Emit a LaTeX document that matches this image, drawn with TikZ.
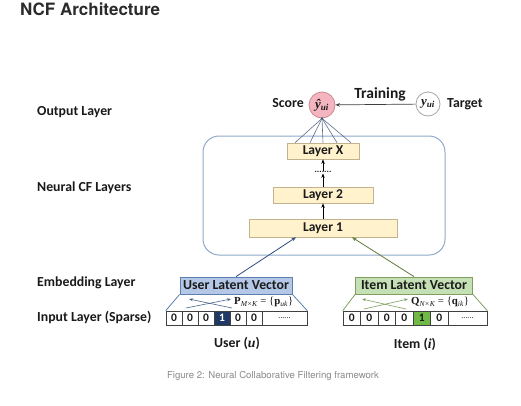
\documentclass[tikz,border=0pt]{standalone}
\usepackage{fontspec}
\setmainfont{Carlito}
\newfontfamily\tms{Liberation Serif}
\newfontfamily\hel{TeX Gyre Heros}
\usetikzlibrary{arrows.meta}
\definecolor{titlec}{HTML}{2B2B2B}
\definecolor{layerfill}{HTML}{FFF2CC}
\definecolor{layerdraw}{HTML}{C2B38E}
\definecolor{framec}{HTML}{8EA9C8}
\definecolor{scorefill}{HTML}{F4B5C0}
\definecolor{scoredraw}{HTML}{C9888F}
\definecolor{fanc}{HTML}{5A6E8C}
\definecolor{ufill}{HTML}{B4C7E7}
\definecolor{udraw}{HTML}{5B7FAE}
\definecolor{ifill}{HTML}{C5E0B4}
\definecolor{idraw}{HTML}{7F9F62}
\definecolor{darkcell}{HTML}{1F3864}
\definecolor{greencell}{HTML}{70B944}
\definecolor{uarr}{HTML}{2F4C7E}
\definecolor{iarr}{HTML}{5F7A3A}
\definecolor{capc}{HTML}{8A8A8A}
\definecolor{txt}{HTML}{1A1A1A}
\begin{document}
\begin{tikzpicture}[x=1pt,y=-1pt,
  every node/.style={text=txt},
  lbl/.style={anchor=west,inner sep=0pt,font=\bfseries\fontsize{13.8}{15}\selectfont},
  layerbox/.style={draw=layerdraw,fill=layerfill,line width=0.6pt,inner sep=0pt,font=\bfseries\fontsize{13.5}{15}\selectfont},
  arr/.style={-{Stealth[length=4.5pt,width=3.5pt]},line width=0.8pt},
  fan/.style={draw=fanc,line width=0.6pt},
  cell/.style={draw=black!75,line width=0.6pt,minimum height=14pt,inner sep=0pt,font=\bfseries\fontsize{11.5}{13}\selectfont},
  vecbox/.style={line width=0.8pt,minimum height=17pt,inner sep=0pt,font=\bfseries\fontsize{13.8}{15}\selectfont},
  crossarr/.style={-{Stealth[length=4pt,width=3pt]},line width=0.6pt},
]
\useasboundingbox (0,0) rectangle (521,405);
\fill[white] (0,0) rectangle (521,405);

% title
\node[anchor=west,inner sep=0pt,text=titlec,font=\hel\bfseries\fontsize{17}{19}\selectfont] (title) at (20,9) {NCF Architecture};

% left labels
\node[lbl] (outl) at (37,112) {Output Layer};
\node[lbl] (ncfl) at (37,188) {Neural CF Layers};
\node[lbl] (embl) at (37,283) {Embedding Layer};
\node[lbl] (inpl) at (37,317) {Input Layer (Sparse)};

% frame
\node[draw=framec,line width=1pt,rounded corners=16pt,minimum width=242pt,minimum height=119pt] (frame) at (324,195.5) {};

% layers
\node[layerbox,minimum width=72pt,minimum height=16pt] (lx) at (323,151) {Layer X};
\node[inner sep=0.5pt,font=\bfseries\fontsize{9}{9}\selectfont] (dots) at (323,172) {.......};
\node[layerbox,minimum width=100pt,minimum height=16pt] (l2) at (323,195) {Layer 2};
\node[layerbox,minimum width=148pt,minimum height=18pt] (l1) at (323,228) {Layer 1};
\draw[arr] (l1) -- (l2);
\draw[arr] (l2) -- (dots);
\draw[arr] (dots) -- (lx);

% score and target
\node[circle,draw=scoredraw,fill=scorefill,line width=0.8pt,minimum size=26pt,inner sep=0pt] (score) at (322,105) {\tms\bfseries\itshape\fontsize{13}{14}\selectfont ŷ\textsubscript{ui}};
\node[anchor=east,inner sep=0pt,font=\bfseries\fontsize{13.8}{15}\selectfont] (scorel) at (304,103) {Score};
\node[circle,draw=black!35,fill=white,line width=0.8pt,minimum size=24pt,inner sep=0pt] (tgt) at (428,104) {\tms\bfseries\itshape\fontsize{13}{14}\selectfont y\textsubscript{ui}};
\node[anchor=west,inner sep=0pt,font=\bfseries\fontsize{13.8}{15}\selectfont] (tgtl) at (447,104) {Target};
\node[inner sep=0pt,font=\bfseries\fontsize{15.5}{17}\selectfont] (train) at (380,94) {Training};
\draw[arr,draw=black!75,line width=0.7pt] (tgt) -- (score);

% fan lines
\foreach \dx in {-28,-13,0,14,28}
  \draw[fan] (score.south) -- ([xshift=\dx pt]lx.north);
\fill[fanc!80!black] (score.south) circle (1.3pt);

% embedding boxes
\node[vecbox,draw=udraw,fill=ufill,minimum width=112pt] (ulv) at (236,285.5) {User Latent Vector};
\node[vecbox,draw=idraw,fill=ifill,minimum width=117pt] (ilv) at (414,285.5) {Item Latent Vector};
\draw[arr,draw=uarr] (ulv.north) -- ([xshift=-27pt]l1.south);
\draw[arr,draw=iarr] (ilv.north) -- ([xshift=29pt]l1.south);

% user input row
\node[cell,minimum width=16pt] (u1) at (174,318) {0};
\node[cell,minimum width=16pt] (u2) at (190,318) {0};
\node[cell,minimum width=16pt] (u3) at (206,318) {0};
\node[cell,minimum width=16pt,fill=darkcell,text=white] (u4) at (222,318) {1};
\node[cell,minimum width=16pt] (u5) at (238,318) {0};
\node[cell,minimum width=16pt] (u6) at (254,318) {0};
\node[cell,minimum width=45pt,font=\fontsize{8}{9}\selectfont] (ud) at (284.5,318) {......};

% item input row
\node[cell,minimum width=17.5pt] (i1) at (351.75,318) {0};
\node[cell,minimum width=17.5pt] (i2) at (369.25,318) {0};
\node[cell,minimum width=17.5pt] (i3) at (386.75,318) {0};
\node[cell,minimum width=17.5pt] (i4) at (404.25,318) {0};
\node[cell,minimum width=17.5pt,fill=greencell] (i5) at (421.75,318) {1};
\node[cell,minimum width=17.5pt] (i6) at (439.25,318) {0};
\node[cell,minimum width=39pt,font=\fontsize{8}{9}\selectfont] (id) at (467.5,318) {......};

% trapezoid sides
\draw[draw=udraw,line width=0.8pt] (ulv.south west) -- (u1.north west);
\draw[draw=udraw,line width=0.8pt] (ulv.south east) -- (ud.north east);
\draw[draw=idraw,line width=0.8pt] (ilv.south west) -- (i1.north west);
\draw[draw=idraw,line width=0.8pt] (ilv.south east) -- (id.north east);

% crossing arrows
\coordinate (ua1) at (189,299); \coordinate (ua2) at (232,308);
\coordinate (ub1) at (186,308); \coordinate (ub2) at (231,299);
\draw[crossarr,draw=udraw!80!black] (ua2) -- (ua1);
\draw[crossarr,draw=udraw!80!black] (ub1) -- (ub2);
\coordinate (ia1) at (362,299); \coordinate (ia2) at (406,309);
\coordinate (ib1) at (364,309); \coordinate (ib2) at (408,299);
\draw[crossarr,draw=idraw] (ia2) -- (ia1);
\draw[crossarr,draw=idraw] (ib1) -- (ib2);

% matrix labels
\node[anchor=west,inner sep=0pt,font=\tms\fontsize{10.8}{11}\selectfont] (plbl) at (234,302) {\textbf{P}\textsubscript{\itshape M×K} = \{\textbf{p}\textsubscript{\itshape uk}\}};
\node[anchor=west,inner sep=0pt,font=\tms\fontsize{10.8}{11}\selectfont] (qlbl) at (411,302) {\textbf{Q}\textsubscript{\itshape N×K} = \{\textbf{q}\textsubscript{\itshape ik}\}};

% bottom labels
\node[inner sep=0pt,font=\bfseries\fontsize{13.8}{15}\selectfont] (ulbl) at (237,343) {User ({\tms\itshape u})};
\node[inner sep=0pt,font=\bfseries\fontsize{13.8}{15}\selectfont] (ilbl) at (415,344) {Item ({\tms\itshape i})};

% caption
\node[inner sep=0pt,text=capc,font=\hel\fontsize{9.6}{11}\selectfont] (cap) at (273,376) {Figure 2: Neural Collaborative Filtering framework};
\end{tikzpicture}
\end{document}
